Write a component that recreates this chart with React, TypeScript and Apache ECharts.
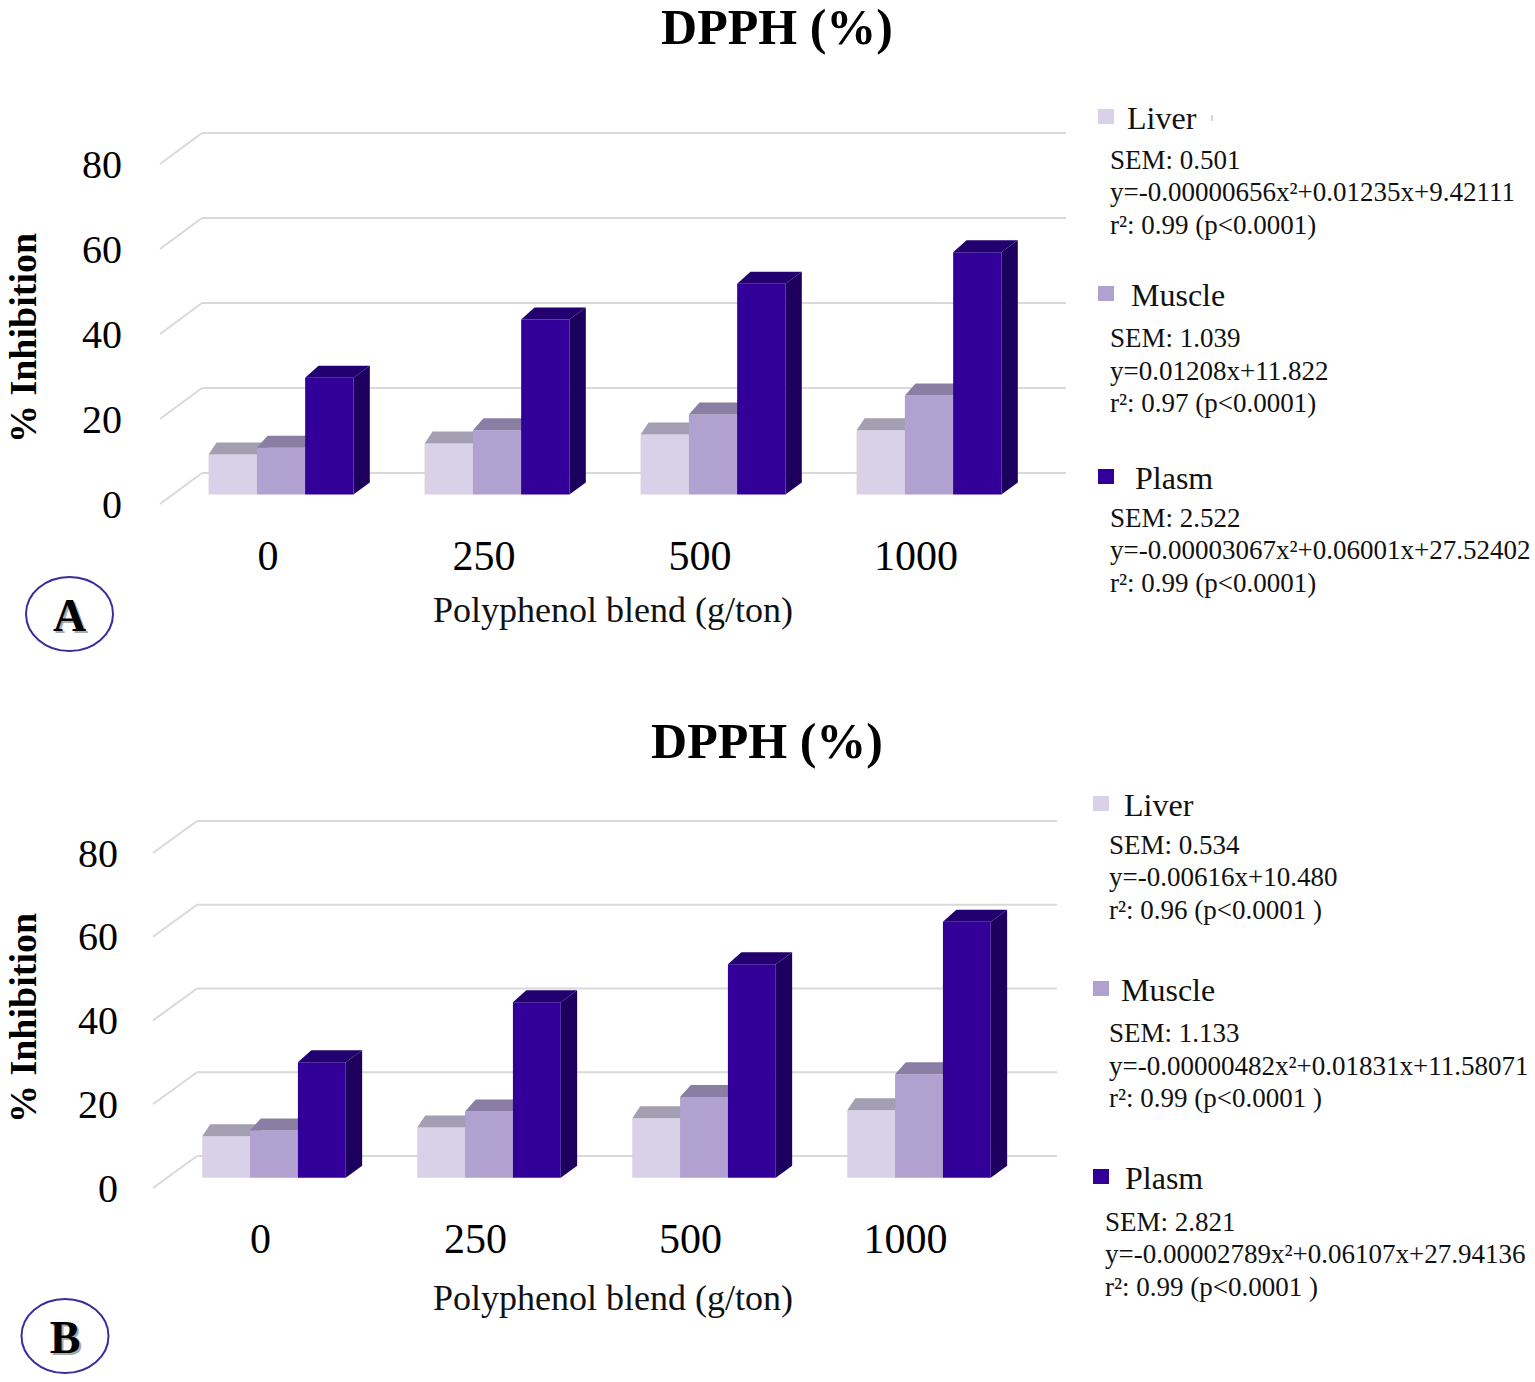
import React, { useEffect, useRef } from 'react';
import * as echarts from 'echarts';

// ---------- data ----------
const categories = ['0', '250', '500', '1000'];
const yTicks = [0, 20, 40, 60, 80];
const seriesNames = ['Liver', 'Muscle', 'Plasm'];

const liverA = [9.4, 12.0, 14.1, 15.1];
const muscleA = [11.0, 15.1, 18.8, 23.3];
const plasmA = [27.5, 41.2, 49.6, 57.0];

const liverB = [9.9, 12.0, 14.2, 16.1];
const muscleB = [11.3, 15.8, 19.3, 24.7];
const plasmB = [27.6, 41.9, 51.0, 61.1];

const statsA = [
  ['SEM: 0.501', 'y=-0.00000656x\u00b2+0.01235x+9.42111', 'r\u00b2: 0.99 (p<0.0001)'],
  ['SEM: 1.039', 'y=0.01208x+11.822', 'r\u00b2: 0.97 (p<0.0001)'],
  ['SEM: 2.522', 'y=-0.00003067x\u00b2+0.06001x+27.52402', 'r\u00b2: 0.99 (p<0.0001)'],
];
const statsB = [
  ['SEM: 0.534', 'y=-0.00616x+10.480', 'r\u00b2: 0.96 (p<0.0001 )'],
  ['SEM: 1.133', 'y=-0.00000482x\u00b2+0.01831x+11.58071', 'r\u00b2: 0.99 (p<0.0001 )'],
  ['SEM: 2.821', 'y=-0.00002789x\u00b2+0.06107x+27.94136', 'r\u00b2: 0.99 (p<0.0001 )'],
];

const chartTitle = 'DPPH (%)';
const yAxisName = '% Inhibition';
const xAxisName = 'Polyphenol blend (g/ton)';
const panelLetters = ['A', 'B'];

// ---------- styles / layout ----------
const FONT = "'Liberation Serif', 'Times New Roman', serif";
const frontColors = ['#d9d1e8', '#b1a1d0', '#320098'];
const topColors = ['#a49eb2', '#8a7ea4', '#22006f'];
const sideColors = ['#bab2cb', '#968cb2', '#1d005d'];
const gridLineColor = '#d9d9d9';

const panels = [
  {
    grid: { left: 160, top: 164, width: 864, height: 340 },
    back: [42, -31],
    depth: [13, -9.5],
    barW: 0.2235,
    yLabelMargin: 38,
    xLabelMargin: 31,
    title: [777, 27],
    yName: [23, 338],
    xName: [613, 610],
    circle: [69.5, 614],
    markerX: 1098,
    labelX: [1127, 1131, 1135],
    labelY: [118, 295, 478],
    statX: [1110, 1110, 1110],
    statY: [[160, 192, 225], [338, 371, 403], [518, 550, 583]],
    data: [liverA, muscleA, plasmA],
    stats: statsA,
  },
  {
    grid: { left: 153, top: 853, width: 860, height: 335 },
    back: [44, -32],
    depth: [13.5, -10.3],
    barW: 0.2225,
    yLabelMargin: 35,
    xLabelMargin: 30,
    title: [767, 741],
    yName: [23, 1018],
    xName: [613, 1298],
    circle: [65, 1336],
    markerX: 1093,
    labelX: [1124, 1121, 1125],
    labelY: [805, 990, 1178],
    statX: [1109, 1109, 1105],
    statY: [[845, 877, 910], [1033, 1066, 1098], [1222, 1254, 1287]],
    data: [liverB, muscleB, plasmB],
    stats: statsB,
  },
];

function buildOption() {
  const grid: any[] = [];
  const xAxis: any[] = [];
  const yAxis: any[] = [];
  const series: any[] = [];
  const graphic: any[] = [];

  panels.forEach((p, pi) => {
    grid.push({ ...p.grid, containLabel: false });
    xAxis.push({
      type: 'category',
      gridIndex: pi,
      data: categories,
      boundaryGap: true,
      axisLine: { show: false },
      axisTick: { show: false },
      splitLine: { show: false },
      axisLabel: {
        interval: 0,
        margin: p.xLabelMargin,
        fontSize: 42,
        fontFamily: FONT,
        color: '#000',
        lineHeight: 42,
      },
    });
    yAxis.push({
      type: 'value',
      gridIndex: pi,
      min: 0,
      max: 80,
      interval: 20,
      axisLine: { show: false },
      axisTick: { show: false },
      splitLine: { show: false },
      axisLabel: {
        margin: p.yLabelMargin,
        fontSize: 40,
        fontFamily: FONT,
        color: '#000',
      },
    });

    // gridlines (back wall + left diagonals)
    series.push({
      type: 'custom',
      xAxisIndex: pi,
      yAxisIndex: pi,
      clip: false,
      silent: true,
      z: 1,
      data: yTicks.map((v) => [0, v]),
      encode: { x: 0, y: 1 },
      renderItem: (params: any, api: any) => {
        const cs = params.coordSys;
        const y = api.coord([0, api.value(1)])[1];
        const fx = cs.x;
        const bx = fx + p.back[0];
        const by = y + p.back[1];
        const style = { stroke: gridLineColor, lineWidth: 2 };
        return {
          type: 'group',
          children: [
            { type: 'line', shape: { x1: bx, y1: by, x2: bx + cs.width, y2: by }, style },
            { type: 'line', shape: { x1: fx, y1: y, x2: bx, y2: by }, style },
          ],
        };
      },
    });

    // 3D bars
    p.data.forEach((arr, k) => {
      series.push({
        type: 'custom',
        name: seriesNames[k],
        xAxisIndex: pi,
        yAxisIndex: pi,
        clip: false,
        z: 2,
        data: arr.map((v, i) => [i, v]),
        encode: { x: 0, y: 1 },
        renderItem: (params: any, api: any) => {
          const ci = api.value(0);
          const v = api.value(1);
          const base = api.coord([ci, 0]);
          const topP = api.coord([ci, v]);
          const band = api.size([1, 0])[0];
          const w = band * p.barW;
          const x0 = base[0] + p.depth[0] - 1.5 * w + k * w;
          const x1 = x0 + w;
          const yb = base[1] + p.depth[1];
          const yt = topP[1] + p.depth[1];
          const dl = 8 + 2.7 * k;
          const dr = dl + 3;
          const dy = -12;
          return {
            type: 'group',
            children: [
              {
                type: 'polygon',
                shape: { points: [[x1, yt], [x1 + dr, yt + dy], [x1 + dr, yb + dy], [x1, yb]] },
                style: { fill: sideColors[k] },
              },
              {
                type: 'rect',
                shape: { x: x0, y: yt, width: w, height: yb - yt },
                style: { fill: frontColors[k] },
              },
              {
                type: 'polygon',
                shape: { points: [[x0, yt], [x1, yt], [x1 + dr, yt + dy], [x0 + dl, yt + dy]] },
                style: { fill: topColors[k] },
              },
            ],
          };
        },
      });
    });

    // titles
    graphic.push({
      type: 'text',
      x: p.title[0],
      y: p.title[1],
      style: {
        text: chartTitle,
        font: `bold 50px ${FONT}`,
        fill: '#000',
        align: 'center',
        verticalAlign: 'middle',
      },
    });
    graphic.push({
      type: 'text',
      x: p.yName[0],
      y: p.yName[1],
      rotation: Math.PI / 2,
      style: {
        text: yAxisName,
        font: `bold 38px ${FONT}`,
        fill: '#000',
        align: 'center',
        verticalAlign: 'middle',
      },
    });
    graphic.push({
      type: 'text',
      x: p.xName[0],
      y: p.xName[1],
      style: {
        text: xAxisName,
        font: `36px ${FONT}`,
        fill: '#111',
        align: 'center',
        verticalAlign: 'middle',
      },
    });

    // panel letter in ellipse
    graphic.push({
      type: 'ellipse',
      shape: { cx: p.circle[0], cy: p.circle[1], rx: 43.5, ry: 37 },
      style: { fill: '#fff', stroke: '#3b2b9e', lineWidth: 2 },
    });
    graphic.push({
      type: 'text',
      x: p.circle[0] + 2,
      y: p.circle[1] + 3,
      style: {
        text: panelLetters[pi],
        font: `bold 46px ${FONT}`,
        fill: '#aaa',
        align: 'center',
        verticalAlign: 'middle',
      },
    });
    graphic.push({
      type: 'text',
      x: p.circle[0],
      y: p.circle[1] + 1,
      style: {
        text: panelLetters[pi],
        font: `bold 46px ${FONT}`,
        fill: '#000',
        align: 'center',
        verticalAlign: 'middle',
      },
    });

    // legend with stats
    seriesNames.forEach((name, k) => {
      graphic.push({
        type: 'rect',
        shape: { x: p.markerX, y: p.labelY[k] - 9, width: 16, height: 15 },
        style: { fill: frontColors[k] },
      });
      graphic.push({
        type: 'text',
        x: p.labelX[k],
        y: p.labelY[k],
        style: {
          text: name,
          font: `32px ${FONT}`,
          fill: '#111',
          align: 'left',
          verticalAlign: 'middle',
        },
      });
      p.stats[k].forEach((line, j) => {
        graphic.push({
          type: 'text',
          x: p.statX[k],
          y: p.statY[k][j],
          style: {
            text: line,
            font: `27px ${FONT}`,
            fill: '#111',
            align: 'left',
            verticalAlign: 'middle',
          },
        });
      });
    });
  });

  // small stray mark next to the first "Liver" label
  graphic.push({
    type: 'line',
    shape: { x1: 1212, y1: 115, x2: 1212, y2: 121 },
    style: { stroke: '#c8c8c8', lineWidth: 1.5 },
  });

  return {
    animation: false,
    backgroundColor: '#ffffff',
    grid,
    xAxis,
    yAxis,
    series,
    graphic,
  };
}

export default function App() {
  const ref = useRef<HTMLDivElement>(null);
  useEffect(() => {
    if (!ref.current) return;
    const chart = echarts.init(ref.current, undefined, { renderer: 'svg' });
    chart.setOption(buildOption() as any);
    return () => {
      chart.dispose();
    };
  }, []);
  return (
    <div
      ref={ref}
      style={{ position: 'absolute', left: 0, top: 0, width: 1535, height: 1382, background: '#fff' }}
    />
  );
}
